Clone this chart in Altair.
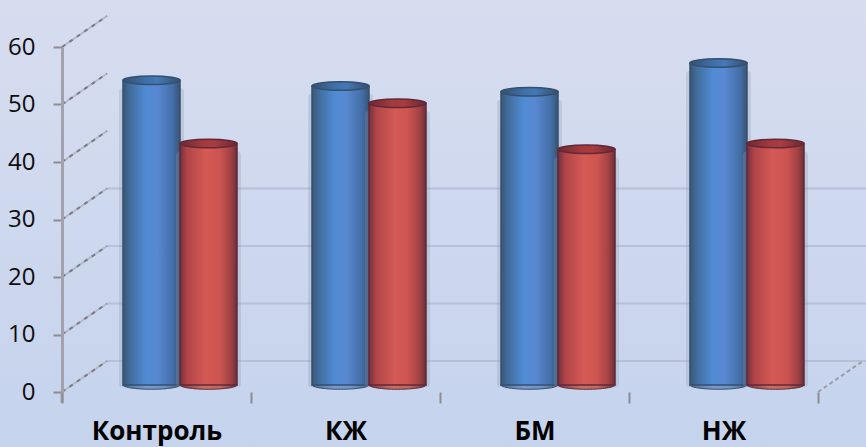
import altair as alt
import pandas as pd

# ---- data -------------------------------------------------------------
categories = ["Контроль", "КЖ", "БМ", "НЖ"]
series_names = ["A", "B"]
series_a = [53, 52, 51, 56]   # blue cylinders
series_b = [42, 49, 41, 42]   # red cylinders
y_ticks = [0, 10, 20, 30, 40, 50, 60]
wall_grid = [0, 10, 20, 30]

rows = []
for c, a, b in zip(categories, series_a, series_b):
    rows.append({"cat": c, "series": "A", "value": a})
    rows.append({"cat": c, "series": "B", "value": b})
df = pd.DataFrame(rows)

# ---- geometry / style ------------------------------------------------
W, H = 866, 447
DEPTH_DX, DEPTH_DY = 45, -31     # back-wall projection
LIFT = -7                        # bars stand half way into the floor
FONT = "Open Sans"

x_scale = alt.Scale(domain=categories, range=[62, 818], paddingInner=0, paddingOuter=0)
off_scale = alt.Scale(domain=series_names, range=[61, 175], paddingInner=0, paddingOuter=0)
y_scale = alt.Scale(domain=[0, 60], range=[392, 47], nice=False, zero=False)

y_axis = alt.Axis(values=y_ticks, orient="left", offset=-62, grid=False, title=None, zindex=1,
                  domain=True, domainColor="#a4a1ac", domainWidth=3,
                  ticks=True, tickSize=9, tickColor="#8c8c92", tickWidth=2,
                  labelPadding=18, labelFont=FONT, labelFontSize=24, labelColor="#0d0d0d")
x_axis = alt.Axis(orient="bottom", offset=-55, grid=False, title=None, domain=False, zindex=1,
                  ticks=True, tickBand="extent", tickSize=11, tickColor="#8c8c92", tickWidth=2,
                  labelAngle=0, labelPadding=15, labelFont=FONT, labelFontSize=26,
                  labelFontWeight="bold", labelColor="#000000")


def lin(stops, vertical=False):
    return alt.LinearGradient(
        gradient="linear",
        stops=[alt.GradientStop(color=c, offset=o) for o, c in stops],
        x1=0, y1=0, x2=0 if vertical else 1, y2=1 if vertical else 0,
    )


bg_grad = lin([(0, "#d7ddef"), (1, "#c5d3ed")], vertical=True)
blue_body = lin([(0, "#3a5676"), (0.12, "#416c9c"), (0.4, "#4f8cd4"),
                 (0.6, "#5a88d2"), (0.88, "#426ea6"), (1, "#3b5272")])
red_body = lin([(0, "#6e3040"), (0.12, "#b04448"), (0.45, "#d45a54"),
                (0.7, "#cc5450"), (0.9, "#9e4044"), (1, "#6a3038")])
blue_cap = lin([(0, "#34506f"), (0.4, "#3f6fa8"), (0.6, "#4478b6"), (1, "#35506f")])
red_cap = lin([(0, "#6a2a32"), (0.4, "#a33a3c"), (0.6, "#a83c3e"), (1, "#6a2a32")])
blue_base = lin([(0, "#4a6a90"), (0.4, "#7b98d0"), (0.7, "#6f93c8"), (1, "#4a6585")])
red_base = lin([(0, "#7a3840"), (0.4, "#c87060"), (0.7, "#c06a5c"), (1, "#743038")])

ELLIPSE = "M -1 0 A 1 0.15 0 1 1 1 0 A 1 0.15 0 1 1 -1 0 Z"
CYL_W = 57

# ---- layers -------------------------------------------------------------
background = alt.Chart(alt.Data(values=[{}])).mark_rect(color=bg_grad).encode(
    x=alt.value(0), x2=alt.value(W), y=alt.value(0), y2=alt.value(H)
)

grid = alt.Chart(pd.DataFrame({"v": wall_grid})).mark_rule(
    color="#b6c0d8", strokeWidth=2, yOffset=DEPTH_DY
).encode(
    y=alt.Y("v:Q", scale=y_scale, axis=y_axis),
    x=alt.value(62 + DEPTH_DX), x2=alt.value(W),
)

diag_df = pd.DataFrame({"v": y_ticks})
diag_light = alt.Chart(diag_df).mark_rule(
    color="#b3b8c8", strokeWidth=2, y2Offset=DEPTH_DY
).encode(
    y=alt.Y("v:Q", scale=y_scale, axis=y_axis), y2="v:Q",
    x=alt.value(62), x2=alt.value(62 + DEPTH_DX),
)
diag_dark = diag_light.mark_rule(
    color="#7c7c84", strokeWidth=2, strokeDash=[4, 5], y2Offset=DEPTH_DY
)
floor_edge = alt.Chart(pd.DataFrame({"v": [0]})).mark_rule(
    color="#9a9ca8", strokeWidth=2, strokeDash=[4, 3], y2Offset=DEPTH_DY
).encode(
    y=alt.Y("v:Q", scale=y_scale, axis=y_axis), y2="v:Q",
    x=alt.value(818), x2=alt.value(818 + DEPTH_DX),
)
# the vertical axis line runs a little below the floor corner
axis_foot = alt.Chart(pd.DataFrame({"v": [0]})).mark_rule(
    color="#a4a1ac", strokeWidth=3, y2Offset=11
).encode(
    y=alt.Y("v:Q", scale=y_scale, axis=y_axis), y2="v:Q", x=alt.value(62),
)


def cylinder(series, body, cap, base, edge):
    src = alt.Chart(df).transform_filter(alt.datum.series == series)
    xenc = dict(
        x=alt.X("cat:N", scale=x_scale, axis=x_axis, sort=categories),
        xOffset=alt.XOffset("series:N", scale=off_scale),
    )
    shadow = src.mark_bar(
        width=CYL_W + 8, color="#8e96b0", opacity=0.28,
        yOffset=LIFT + 8, y2Offset=LIFT + 2, cornerRadius=3,
    ).encode(y=alt.Y("value:Q", scale=y_scale, axis=y_axis), y2=alt.datum(0), **xenc)
    bottom = src.mark_point(
        shape=ELLIPSE, size=CYL_W ** 2, filled=True, fill=base, stroke=edge,
        strokeWidth=1, opacity=1, yOffset=LIFT,
    ).encode(y=alt.Y("zero:Q", scale=y_scale, axis=y_axis), **xenc).transform_calculate(zero="0")
    bar = src.mark_bar(
        fill=body, stroke=edge, strokeWidth=1.5, yOffset=LIFT, y2Offset=LIFT,
    ).encode(y=alt.Y("value:Q", scale=y_scale, axis=y_axis), y2=alt.datum(0), **xenc)
    top = src.mark_point(
        shape=ELLIPSE, size=CYL_W ** 2, filled=True, fill=cap, stroke=edge,
        strokeWidth=1.5, opacity=1, yOffset=LIFT,
    ).encode(y=alt.Y("value:Q", scale=y_scale, axis=y_axis), **xenc)
    return [shadow, bottom, bar, top]


layers = [background, grid, diag_light, diag_dark, floor_edge, axis_foot]
layers += cylinder("A", blue_body, blue_cap, blue_base, "#34506e")
layers += cylinder("B", red_body, red_cap, red_base, "#62283a")

chart = alt.layer(*layers).properties(
    width=W, height=H,
    autosize=alt.AutoSizeParams(type="none"),
    padding=0,
).configure_view(stroke=None)

chart.save("out.html", embed_options={"renderer": "svg", "actions": False})
